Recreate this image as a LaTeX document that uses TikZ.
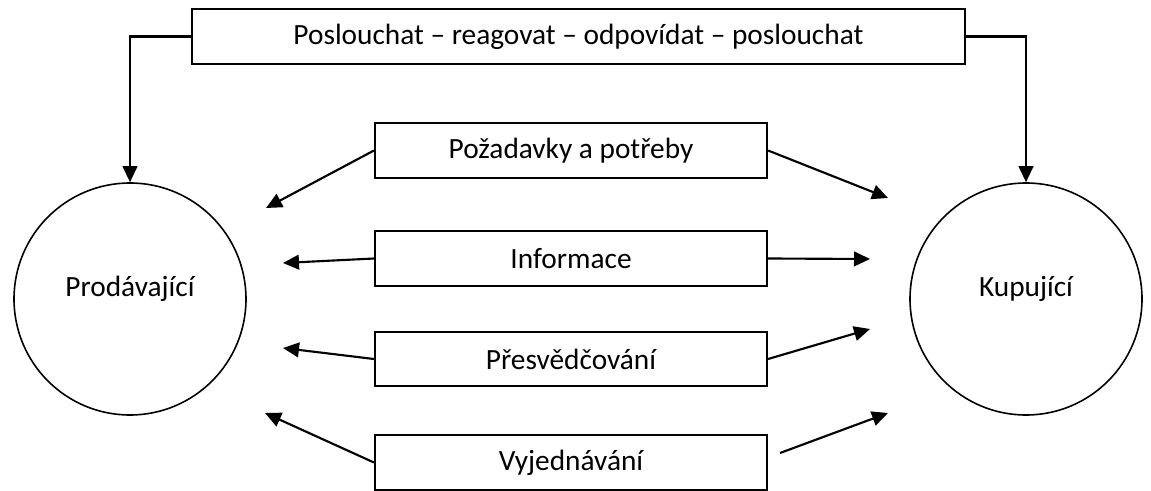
\documentclass[tikz,border=0pt]{standalone}
\usepackage{fontspec}
\setmainfont{Carlito}
\usetikzlibrary{arrows.meta}

\begin{document}
\begin{tikzpicture}[x=0.75pt, y=-0.75pt, font=\fontsize{22}{26}\selectfont,
    flow/.style={-{Triangle[length=12pt,width=11pt]}, line width=1.6pt}]

        \useasboundingbox (0,0) rectangle (1151,491);

        \begin{scope}[every node/.style={circle, draw, line width=1.2pt, minimum size=174pt, text height=0pt}]
          \node (seller) at (130,299)  {Prodávající};
          \node (buyer)  at (1026,299) {Kupující};
        \end{scope}

        \begin{scope}[every node/.style={rectangle, draw, line width=1.6pt, inner sep=0pt, minimum height=41pt}]
          \node[minimum width=580pt] (loop) at (578.5,36.5) {Poslouchat – reagovat – odpovídat – poslouchat};
          \node[minimum width=294pt] (req)  at (571,150.5) {Požadavky a potřeby};
          \node[minimum width=294pt] (info) at (571,258.5) {Informace};
          \node[minimum width=294pt] (pers) at (571,359)   {Přesvědčování};
          \node[minimum width=294pt] (nego) at (571,462.5) {Vyjednávání};
        \end{scope}

        % free ends of the arrows
        \coordinate (reqL)  at (266,208);
        \coordinate (reqR)  at (888,198);
        \coordinate (infoL) at (283,263);
        \coordinate (infoR) at (870,259);
        \coordinate (persL) at (283,348);
        \coordinate (persR) at (870,329);
        \coordinate (negoL) at (265,413);
        \coordinate (negoS) at (780,453);
        \coordinate (negoR) at (888,413);

        \begin{scope}[every path/.style={flow}]
          \draw (loop.west) -| (seller.north);
          \draw (loop.east) -| (buyer.north);

          \draw (req.west)  -- (reqL);
          \draw (req.east)  -- (reqR);
          \draw (info.west) -- (infoL);
          \draw (info.east) -- (infoR);
          \draw (pers.west) -- (persL);
          \draw (pers.east) -- (persR);
          \draw (nego.west) -- (negoL);
          \draw (negoS)     -- (negoR);
        \end{scope}

      \end{tikzpicture}
\end{document}
